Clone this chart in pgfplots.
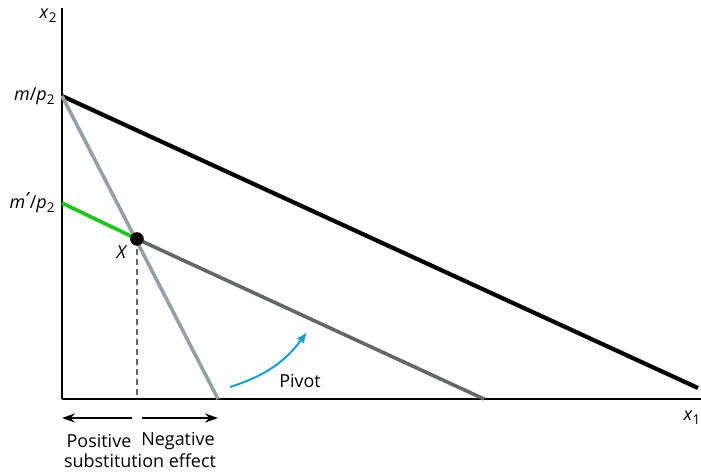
\documentclass[border=0pt]{standalone}
\usepackage{pgfplots}
\pgfplotsset{compat=1.18}
\usepackage{fontspec}
\setmainfont{Open Sans}
\newfontfamily\dejavu{DejaVu Sans}
\usetikzlibrary{arrows.meta}
\definecolor{lgray}{RGB}{150,160,164}
\definecolor{dgray}{RGB}{100,102,106}
\definecolor{bgreen}{RGB}{20,200,20}
\definecolor{pcyan}{RGB}{20,160,205}
\newcommand\sub[1]{\raisebox{-0.4ex}{\fontsize{13.5}{13.5}\selectfont\upshape #1}}
\begin{document}
\begin{tikzpicture}[x=1bp,y=1bp]
\useasboundingbox (0,0) rectangle (701,473);
\begin{axis}[
  at={(62bp,74bp)}, anchor=origin,
  scale only axis, width=639bp, height=391bp,
  xmin=0, xmax=639, ymin=0, ymax=391,
  axis lines=left, axis line style={-, line width=2.6bp},
  xtick=\empty, ytick=\empty,
  clip=false,
  font=\fontsize{18}{20}\selectfont,
]
\addplot[black, line width=4.2bp] coordinates {(0,303) (636,11)};
\addplot[lgray, line width=3.6bp] coordinates {(0,303) (156,0)};
\addplot[bgreen, line width=3.6bp] coordinates {(0,196) (75,160)};
\addplot[dgray, line width=3.6bp] coordinates {(75,160) (422,0)};
\addplot[dgray, dash pattern=on 6bp off 4bp, line width=1.3bp] coordinates {(75,160) (75,0)};
\addplot[only marks, mark=*, mark size=6.5bp, black] coordinates {(75,160)};
\draw[pcyan, line width=2bp, -{Latex[length=11pt,width=9pt]}] (axis cs:168,12) to[bend right=18] (axis cs:245,67);
\node[anchor=center] at (axis cs:238,18) {Pivot};
\node[anchor=east] at (axis cs:-4,303) {\textit{m}/\textit{p}\sub{2}};
\node[anchor=east] at (axis cs:-4,196) {\textit{m}\kern0.5pt{\dejavu\fontsize{22}{22}\selectfont ′}\kern-1pt/\textit{p}\sub{2}};
\node[anchor=east] at (axis cs:-2,383) {\textit{x}\sub{2}};
\node at (axis cs:630,-19) {\textit{x}\sub{1}};
\node at (axis cs:60,147) {\textit{X}};
\draw[-{Stealth[length=13pt,width=9pt]}, line width=1.8bp] (axis cs:70,-19) -- (axis cs:0,-19);
\draw[-{Stealth[length=13pt,width=9pt]}, line width=1.8bp] (axis cs:80,-19) -- (axis cs:156,-19);
\node at (axis cs:37,-42) {Positive};
\node at (axis cs:116,-42) {Negative};
\node at (axis cs:78,-62) {substitution effect};
\end{axis}
\end{tikzpicture}
\end{document}
